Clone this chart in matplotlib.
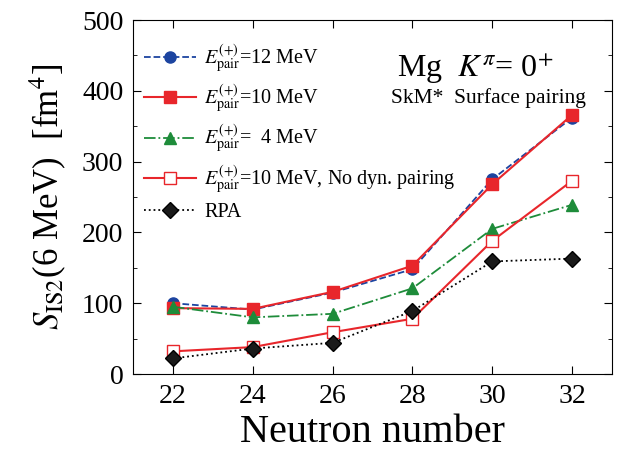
import numpy as np
import matplotlib.pyplot as plt
from matplotlib.ticker import MultipleLocator

plt.rcParams['font.family'] = 'Liberation Serif'
plt.rcParams['mathtext.fontset'] = 'stix'

# Данни
neutrons = [22, 24, 26, 28, 30, 32]
e12 = [100, 91, 115, 148, 275, 362]
e10 = [93, 92, 116, 153, 268, 366]
e4 = [95, 80, 85, 121, 205, 239]
e10_nodyn = [32, 38, 59, 78, 188, 273]
rpa = [22, 36, 44, 89, 159, 163]

fig = plt.figure(figsize=(6.17, 4.54), dpi=100)
ax = fig.add_axes([133/617, 80/454, 479/617, 354/454])

ax.plot(neutrons, e12, '--', color='#1c44a0', lw=1.3, marker='o', ms=8,
        label=r'$E^{(+)}_{\rm pair}$=12 MeV')
ax.plot(neutrons, e10, '-', color='#e8262b', lw=1.5, marker='s', ms=8,
        label=r'$E^{(+)}_{\rm pair}$=10 MeV')
ax.plot(neutrons, e4, '-.', color='#1e8c3a', lw=1.3, marker='^', ms=9,
        label=r'$E^{(+)}_{\rm pair}$=  4 MeV')
ax.plot(neutrons, e10_nodyn, '-', color='#e8262b', lw=1.5, marker='s', ms=8,
        mfc='white', mec='#e8262b',
        label=r'$E^{(+)}_{\rm pair}$=10 MeV, No dyn. pairing')
ax.plot(neutrons, rpa, ':', color='black', lw=1.3, marker='D', ms=8,
        mfc='#1a1a1a', label='RPA')

ax.set_xlim(21, 33)
ax.set_ylim(0, 500)
ax.set_xticks(neutrons)
ax.yaxis.set_major_locator(MultipleLocator(100))
ax.yaxis.set_minor_locator(MultipleLocator(50))
ax.tick_params(which='both', direction='in', top=True, right=True, labelsize=20)
ax.tick_params(which='major', length=6, pad=7)
ax.tick_params(which='minor', length=3)

ax.set_xlabel('Neutron number', fontsize=29, labelpad=4)
ax.set_ylabel(r'$S_{\rm IS2}$(6 MeV)  [fm$^4$]', fontsize=25, labelpad=10)

ax.text(0.714, 0.84, r'Mg  $K^{\pi}$= 0$^{+}$', transform=ax.transAxes,
        fontsize=23, ha='center')
ax.text(0.741, 0.765, 'SkM*  Surface pairing', transform=ax.transAxes,
        fontsize=15.5, ha='center')

ax.legend(loc='upper left', bbox_to_anchor=(0.006, 0.958), borderaxespad=0,
          frameon=False, fontsize=14.5, handlelength=2.6,
          labelspacing=0.38, handletextpad=0.4)

plt.savefig('out.png', dpi=100)
